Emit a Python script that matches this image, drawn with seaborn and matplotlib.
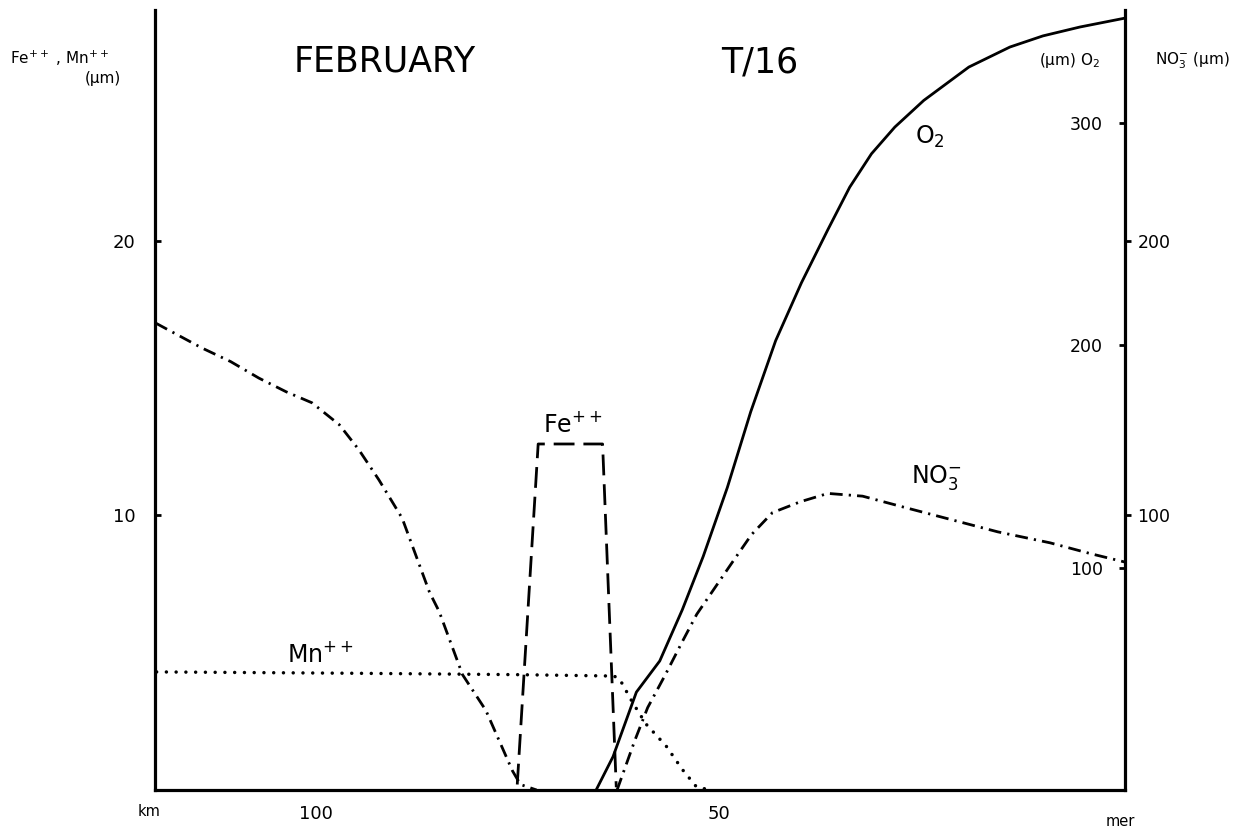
import matplotlib
matplotlib.use("Agg")
import matplotlib.pyplot as plt
import seaborn as sns

# -------------------------------
# data (x = distance from the sea, km)
# -------------------------------
mn_km = [119.8, 95.0, 75.0, 63.0, 62.3, 60.7, 59.0, 56.5, 54.5, 52.7, 50.9]
mn_um = [4.3, 4.25, 4.2, 4.15, 4.05, 3.2, 2.4, 1.6, 0.75, 0.1, 0.0]

fe_km = [75.0, 72.4, 64.4, 62.7]
fe_um = [0.2, 12.6, 12.6, 0.1]

# nitrate: river branch, then sea branch (zero in between)
no3_km = [119.9, 114.2, 110.6, 107.1, 103.7, 100.5, 97.1, 94.7, 92.2, 89.3,
          85.9, 84.7, 81.8, 78.9, 75.6, 74.6, 72.6,
          62.6, 60.4, 58.8, 56.6, 54.5, 52.7, 50.6, 48.5, 45.9, 43.3, 39.8,
          36.4, 32.1, 27.0, 21.8, 15.3, 8.8, 3.7, -0.5]
no3_um = [170, 161, 156, 150, 145, 141, 133, 124, 113, 99,
          72, 65, 42, 29, 7, 2, 0,
          0, 18, 30, 42, 54, 64, 73, 82, 93, 101, 105,
          108, 107, 103, 99, 94, 90, 86, 83]
no3_split = 17

o2_km = [65.2, 63.1, 60.2, 57.3, 54.5, 51.9, 48.9, 46.0, 42.9, 39.7,
         36.4, 33.7, 31.0, 28.1, 24.5, 18.9, 13.8, 9.7, 5.1, -0.5]
o2_um = [0, 15, 44, 58, 81, 105, 136, 170, 202, 228,
         252, 271, 286, 298, 310, 325, 334, 339, 343, 347]

x_ticks = [110, 100, 90, 80, 70, 60, 50, 40, 30, 20, 10]
x_labels = ["", "100", "", "", "", "", "50", "", "", "", ""]

# -------------------------------
# figure
# -------------------------------
sns.set_style("white")
plt.rcParams["font.family"] = ["DejaVu Sans"]
plt.rcParams["mathtext.default"] = "regular"
plt.rcParams["text.color"] = "black"

fig = plt.figure(figsize=(12.51, 8.35), dpi=100)
ax = fig.add_axes([0.1239, 0.0539, 0.7754, 0.934])
ax_no3 = ax.twinx()
ax_o2 = ax.twinx()

lw = 2.0
sns.lineplot(x=mn_km, y=mn_um, ax=ax, color="black", lw=2.5, sort=False,
             estimator=None, linestyle=(0, (0.01, 2.8)), dash_capstyle="round")
sns.lineplot(x=fe_km, y=fe_um, ax=ax, color="black", lw=lw, sort=False,
             estimator=None, linestyle=(0, (7.5, 3.2)))
dashdot = (0, (4.6, 2.2, 0.8, 2.2))
sns.lineplot(x=no3_km[:no3_split], y=no3_um[:no3_split], ax=ax_no3, color="black",
             lw=lw, sort=False, estimator=None, linestyle=dashdot)
sns.lineplot(x=no3_km[no3_split:], y=no3_um[no3_split:], ax=ax_no3, color="black",
             lw=lw, sort=False, estimator=None, linestyle=dashdot)
sns.lineplot(x=o2_km, y=o2_um, ax=ax_o2, color="black", lw=lw, sort=False,
             estimator=None)

ax.set_xlim(120, -0.5)
ax.set_ylim(0, 28.4)
ax_no3.set_ylim(0, 284)
ax_o2.set_ylim(0, 350.6)

for a in (ax, ax_no3, ax_o2):
    a.set_xlabel("")
    a.set_ylabel("")
    for s in a.spines.values():
        s.set_visible(False)
for side in ("left", "bottom", "right"):
    ax.spines[side].set_visible(True)
    ax.spines[side].set_linewidth(2.3)
    ax.spines[side].set_color("black")

ax.set_xticks(x_ticks)
ax.set_xticklabels(x_labels)
ax.tick_params(axis="x", direction="out", length=4, width=2.5, pad=7,
               labelsize=13, colors="black")
ax.set_yticks([10, 20])
ax.tick_params(axis="y", direction="in", length=4, width=2, pad=14,
               labelsize=13, colors="black", right=False)

ax_no3.set_yticks([100, 200])
ax_no3.tick_params(axis="y", direction="out", length=4, width=2, pad=5,
                   labelsize=12.5, colors="black")

ax_o2.set_yticks([100, 200, 300])
ax_o2.tick_params(axis="y", direction="in", length=4, width=2, pad=-16,
                  labelsize=12.5, colors="black")
plt.setp(ax_o2.get_yticklabels(), ha="right")

# axis end words
ax.text(-0.006, -0.028, "km", transform=ax.transAxes, ha="center", va="center", fontsize=10.5)
ax.text(0.995, -0.041, "mer", transform=ax.transAxes, ha="center", va="center", fontsize=10.5)

# labels on the curves
fig.text(573 / 1251, 1 - 424 / 835, "Fe$^{++}$", ha="center", va="center", fontsize=17)
fig.text(320 / 1251, 1 - 655 / 835, "Mn$^{++}$", ha="center", va="center", fontsize=17)
fig.text(930 / 1251, 1 - 137 / 835, "O$_2$", ha="center", va="center", fontsize=17)
fig.text(936 / 1251, 1 - 478 / 835, "NO$_3^{-}$", ha="center", va="center", fontsize=17)

# header texts
fig.text(10 / 1251, 1 - 58 / 835, "Fe$^{++}$ , Mn$^{++}$", ha="left", va="center", fontsize=11)
fig.text(103 / 1251, 1 - 79 / 835, "(µm)", ha="center", va="center", fontsize=11)
fig.text(385 / 1251, 1 - 62 / 835, "FEBRUARY", ha="center", va="center", fontsize=25)
fig.text(760 / 1251, 1 - 62 / 835, "T/16", ha="center", va="center", fontsize=25)
fig.text(1070 / 1251, 1 - 61 / 835, "(µm) O$_2$", ha="center", va="center", fontsize=11)
fig.text(1192 / 1251, 1 - 61 / 835, "NO$_3^{-}$ (µm)", ha="center", va="center", fontsize=11)

fig.savefig("out.png", dpi=100)
